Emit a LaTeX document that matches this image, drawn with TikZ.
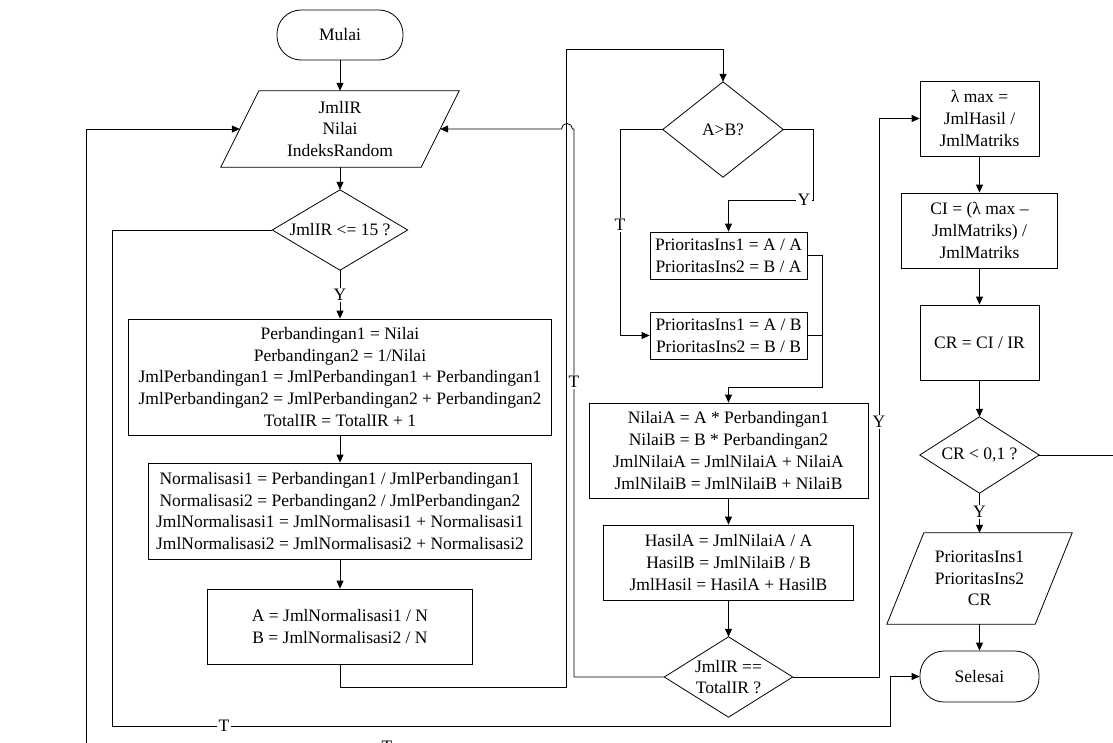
\documentclass[tikz,border=0pt]{standalone}
\usepackage{fontspec}
\setmainfont{Liberation Serif}
\usetikzlibrary{arrows.meta,calc}
\begin{document}
\begin{tikzpicture}[x=1pt,y=-1pt,
  every node/.style={font=\fontsize{17.5pt}{21.7pt}\selectfont, align=center, inner sep=0pt},
  shp/.style={draw=black, line width=0.8pt},
  box/.style={shp, rectangle},
  hold/.style={rectangle, draw=none},
  term/.style={shp, rectangle, rounded corners=24pt},
  ln/.style={draw=black, line width=0.8pt},
  arr/.style={ln, -{Triangle[length=8pt,width=7pt]}},
  lbl/.style={fill=white, inner sep=1.2pt}
]
\useasboundingbox (0,0) rectangle (1113,742);

% ---- column 1
\node[term, minimum width=126pt, minimum height=50pt] (mulai) at (340,35) {Mulai};
\node[hold, minimum width=200pt, minimum height=76pt] (inp) at (340,129) {JmlIR\\Nilai\\IndeksRandom};
\draw[shp] ([xshift=19pt]inp.north west) -- ([xshift=19pt]inp.north east) -- ([xshift=-19pt]inp.south east) -- ([xshift=-19pt]inp.south west) -- cycle;
\node[hold, minimum width=135pt, minimum height=80pt] (d1) at (340,230) {JmlIR <= 15 ?};
\draw[shp] (d1.north) -- (d1.east) -- (d1.south) -- (d1.west) -- cycle;
\node[box, minimum width=423pt, minimum height=116pt] (b1) at (340,377) {Perbandingan1 = Nilai\\Perbandingan2 = 1/Nilai\\JmlPerbandingan1 = JmlPerbandingan1 + Perbandingan1\\JmlPerbandingan2 = JmlPerbandingan2 + Perbandingan2\\TotalIR = TotalIR + 1};
\node[box, minimum width=383pt, minimum height=96pt] (b2) at (340,511) {Normalisasi1 = Perbandingan1 / JmlPerbandingan1\\Normalisasi2 = Perbandingan2 / JmlPerbandingan2\\JmlNormalisasi1 = JmlNormalisasi1 + Normalisasi1\\JmlNormalisasi2 = JmlNormalisasi2 + Normalisasi2};
\node[box, minimum width=265pt, minimum height=75pt] (b3) at (340,626.5) {A = JmlNormalisasi1 / N\\B = JmlNormalisasi2 / N};

% ---- column 2
\node[hold, minimum width=120pt, minimum height=95pt] (dA) at (723,129.5) {A>B?};
\draw[shp] (dA.north) -- (dA.east) -- (dA.south) -- (dA.west) -- cycle;
\node[box, minimum width=157pt, minimum height=47pt] (pA) at (728.5,255.5) {PrioritasIns1 = A / A\\PrioritasIns2 = B / A};
\node[box, minimum width=157pt, minimum height=47pt] (pB) at (728.5,335.5) {PrioritasIns1 = A / B\\PrioritasIns2 = B / B};
\node[box, minimum width=279pt, minimum height=95pt] (nl) at (728.5,450.5) {NilaiA = A * Perbandingan1\\NilaiB = B * Perbandingan2\\JmlNilaiA = JmlNilaiA + NilaiA\\JmlNilaiB = JmlNilaiB + NilaiB};
\node[box, minimum width=250pt, minimum height=75pt] (hs) at (728.5,562.5) {HasilA = JmlNilaiA / A\\HasilB = JmlNilaiB / B\\JmlHasil = HasilA + HasilB};
\node[hold, minimum width=128pt, minimum height=80pt] (dT) at (728.5,677) {JmlIR ==\\TotalIR ?};
\draw[shp] (dT.north) -- (dT.east) -- (dT.south) -- (dT.west) -- cycle;

% ---- column 3
\node[box, minimum width=119pt, minimum height=75pt] (lm) at (979.5,118.5) {λ max =\\JmlHasil /\\JmlMatriks};
\node[box, minimum width=156pt, minimum height=75pt] (ci) at (979.5,230.5) {CI = (λ max –\\JmlMatriks) /\\JmlMatriks};
\node[box, minimum width=119pt, minimum height=75pt] (cr) at (979.5,342.5) {CR = CI / IR};
\node[hold, minimum width=119pt, minimum height=76pt] (dC) at (979.5,455) {CR < 0,1 ?};
\draw[shp] (dC.north) -- (dC.east) -- (dC.south) -- (dC.west) -- cycle;
\node[hold, minimum width=148pt, minimum height=91pt] (out) at (979.5,578.5) {PrioritasIns1\\PrioritasIns2\\CR};
\draw[shp] ([xshift=18.5pt]out.north west) -- ([xshift=18.5pt]out.north east) -- ([xshift=-18.5pt]out.south east) -- ([xshift=-18.5pt]out.south west) -- cycle;
\node[term, minimum width=119pt, minimum height=51pt] (sel) at (979.5,676.5) {Selesai};

% ---- connectors column 1
\draw[arr] (mulai) -- (inp);
\draw[arr] (inp.south) -- (d1.north);
\draw[arr] (d1.south) -- (b1.north);
\draw[arr] (b1) -- (b2);
\draw[arr] (b2) -- (b3);
\draw[arr] (b3.south) |- (566,687) -- (566,49) -| (dA.north);

% ---- A>B branches
\draw[arr] (dA.west) -- (620,129.5) |- (pB.west);
\draw[arr] (dA.east) -- (813,129.5) -- (813,200) -| (pA.north);
\draw[arr] (pA.east) -| (822,387) -| (nl.north);
\draw[ln] (pB.east) -- (822,335.5);
\draw[arr] (nl) -- (hs);
\draw[arr] (hs.south) -- (dT.north);

% ---- loop back T to input (with hop)
\draw[arr] (dT.west) -- (574,677) -- (574,129) -- (572.5,129) arc[start angle=0, end angle=180, radius=5.5pt] -- (inp.east);

% ---- Y to lambda max
\draw[arr] (dT.east) -- (879,677) |- (lm.west);

% ---- column 3 connectors
\draw[arr] (lm) -- (ci);
\draw[arr] (ci) -- (cr);
\draw[arr] (cr.south) -- (dC.north);
\draw[arr] (dC.south) -- (out.north);
\draw[arr] (out.south) -- (sel.north);

% ---- T of first decision to Selesai
\draw[arr] (d1.west) -- (112,230) -- (112,726) -- (890,726) |- (sel.west);

% ---- T of CR decision back to input (runs below the page edge)
\draw[arr] (dC.east) -- (1125,455) -- (1125,747) -- (86,747) -- (86,129) -- (inp.west);

% ---- branch labels
\node[lbl] (ly1) at (340,295) {Y};
\node[lbl] (lt1) at (620,225) {T};
\node[lbl] (ly2) at (804,200) {Y};
\node[lbl] (lt2) at (574,382) {T};
\node[lbl] (ly3) at (879,422) {Y};
\node[lbl] (ly4) at (979.5,512) {Y};
\node[lbl] (lt3) at (224,726) {T};
\node[lbl] (lt4) at (387,747) {T};
\end{tikzpicture}
\end{document}
